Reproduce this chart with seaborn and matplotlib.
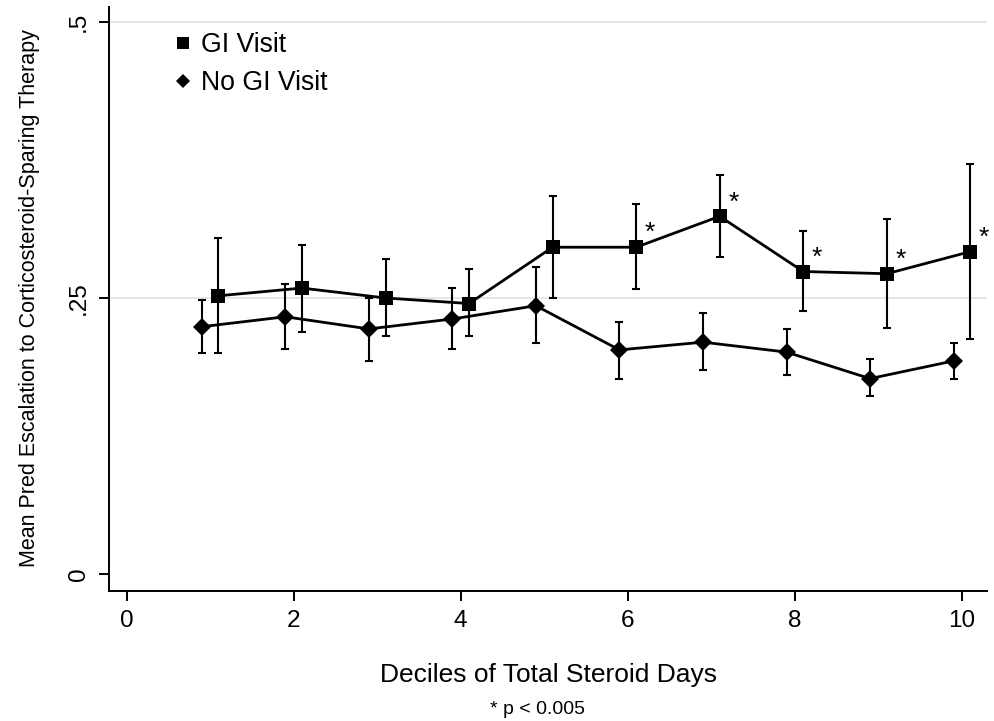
import matplotlib
matplotlib.use("Agg")
import matplotlib.pyplot as plt
from matplotlib.lines import Line2D
import numpy as np
import pandas as pd
import seaborn as sns

# ---- data ----
groups = ["GI Visit", "No GI Visit"]
gi_x = [1.1, 2.1, 3.1, 4.1, 5.1, 6.1, 7.1, 8.1, 9.1, 10.1]
gi_y = [0.252, 0.259, 0.250, 0.245, 0.296, 0.296, 0.324, 0.274, 0.272, 0.292]
gi_lo = [0.200, 0.219, 0.216, 0.216, 0.250, 0.258, 0.287, 0.238, 0.223, 0.213]
gi_hi = [0.304, 0.298, 0.285, 0.276, 0.342, 0.335, 0.361, 0.311, 0.322, 0.371]
nogi_x = [0.9, 1.9, 2.9, 3.9, 4.9, 5.9, 6.9, 7.9, 8.9, 9.9]
nogi_y = [0.224, 0.233, 0.222, 0.231, 0.243, 0.203, 0.210, 0.201, 0.177, 0.193]
nogi_lo = [0.200, 0.204, 0.193, 0.204, 0.209, 0.177, 0.185, 0.180, 0.161, 0.177]
nogi_hi = [0.248, 0.263, 0.250, 0.259, 0.278, 0.228, 0.236, 0.222, 0.195, 0.209]
sig_x = [6.1, 7.1, 8.1, 9.1, 10.1]   # GI Visit points marked with *

x_ticks = [0, 2, 4, 6, 8, 10]
y_ticks = [0, 0.25, 0.5]
y_ticklabels = ["0", ".25", ".5"]
x_label = "Deciles of Total Steroid Days"
y_label = "Mean Pred Escalation to Corticosteroid-Sparing Therapy"
footnote = "* p < 0.005"

df = pd.concat([
    pd.DataFrame({"x": gi_x, "y": gi_y, "lo": gi_lo, "hi": gi_hi, "group": groups[0]}),
    pd.DataFrame({"x": nogi_x, "y": nogi_y, "lo": nogi_lo, "hi": nogi_hi, "group": groups[1]}),
], ignore_index=True)

sns.set_style("white")
plt.rcParams["font.family"] = ["Liberation Sans", "DejaVu Sans"]
plt.rcParams["text.color"] = "black"
plt.rcParams["axes.labelcolor"] = "black"
plt.rcParams["xtick.color"] = "black"
plt.rcParams["ytick.color"] = "black"

fig = plt.figure(figsize=(9.95, 7.21), dpi=100)
ax = fig.add_axes([109 / 995, 1 - 591 / 721, 878 / 995, 584 / 721])

# grid lines at .25 and .5
for yv in y_ticks[1:]:
    ax.axhline(yv, color="#e3e3e3", lw=1.2, zorder=0)

# error bars
for g in groups:
    d = df[df.group == g]
    ax.errorbar(d.x, d.y, yerr=[d.y - d.lo, d.hi - d.y], fmt="none",
                ecolor="black", elinewidth=1.5, capsize=2.8, capthick=1.5, zorder=2)

sns.lineplot(data=df, x="x", y="y", style="group", style_order=groups,
             markers={"GI Visit": "s", "No GI Visit": "D"}, dashes=False,
             color="black", lw=2.0, markersize=10, markeredgewidth=0,
             sort=False, estimator=None, legend=False, ax=ax, zorder=3)
for ln in ax.lines:
    if ln.get_marker() == "D":
        ln.set_markersize(9.5)

# significance stars
for xs in sig_x:
    yv = df[(df.group == groups[0]) & (np.isclose(df.x, xs))].y.iloc[0]
    ax.annotate("*", (xs, yv), xytext=(10, 5), textcoords="offset points",
                ha="center", va="baseline", fontsize=19)

ax.set_xlim(-0.21, 10.3)
ax.set_ylim(-0.0154, 0.5136)
ax.set_xticks(x_ticks)
ax.set_xticklabels([str(t) for t in x_ticks])
ax.set_yticks(y_ticks)
ax.set_yticklabels(y_ticklabels, rotation=90, va="center")
ax.tick_params(axis="both", which="major", direction="out", length=7.2, width=1.4,
               labelsize=17.5, color="black", labelcolor="black", pad=6.5,
               left=True, bottom=True)
for s in ["top", "right"]:
    ax.spines[s].set_visible(False)
for s in ["left", "bottom"]:
    ax.spines[s].set_color("black")
    ax.spines[s].set_linewidth(1.4)

ax.set_xlabel("")
ax.set_ylabel("")
fig.text(30 / 995, 1 - 298 / 721, y_label, rotation=90, ha="center", va="center",
         fontsize=15.5)
fig.text(549 / 995, 1 - 675 / 721, x_label, ha="center", va="center", fontsize=19)
fig.text(537 / 995, 1 - 709 / 721, footnote, ha="center", va="center", fontsize=14)

handles = [Line2D([], [], color="black", marker="s", linestyle="none", markersize=8.5,
                  markeredgewidth=0),
           Line2D([], [], color="black", marker="D", linestyle="none", markersize=7,
                  markeredgewidth=0)]
ax.legend(handles, groups, loc="upper left", bbox_to_anchor=(0.073, 0.957),
          frameon=False, fontsize=19.2, handlelength=0.75, handletextpad=0.3,
          borderpad=0, borderaxespad=0, labelspacing=0.44)

fig.savefig("out.png", dpi=100)
